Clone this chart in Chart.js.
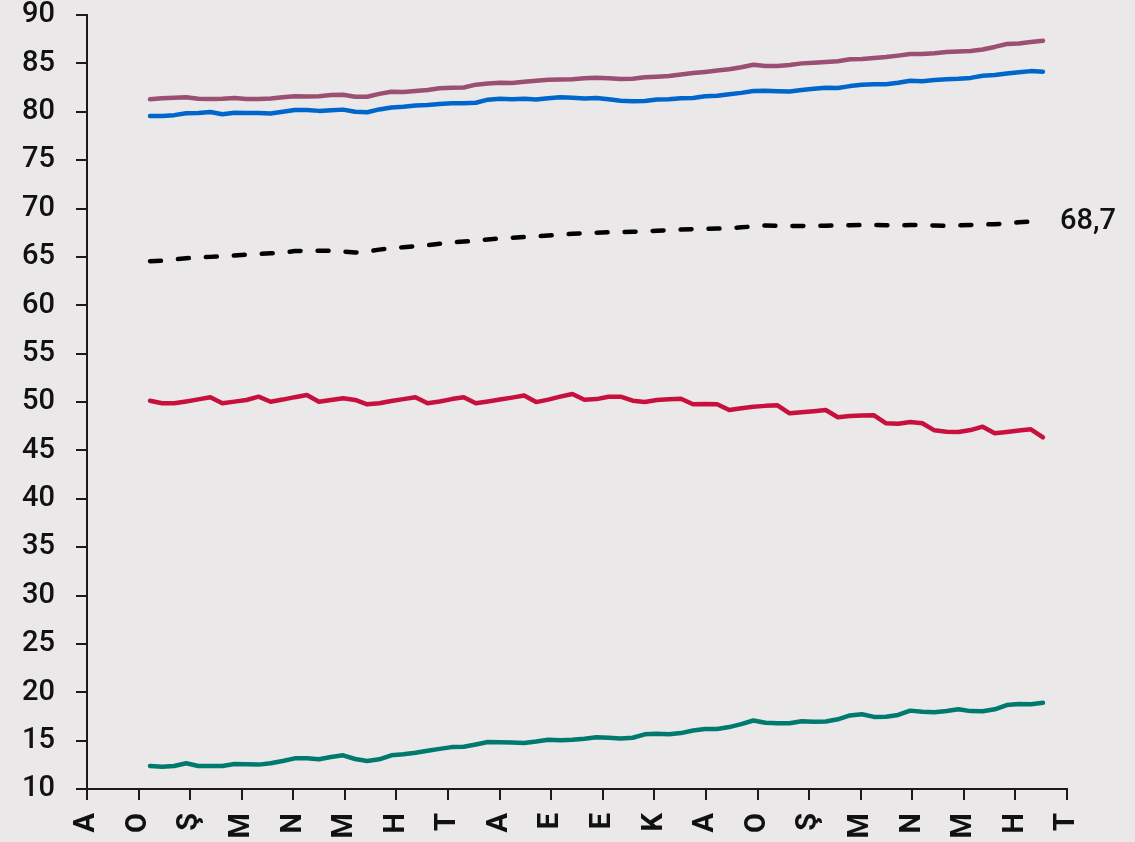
<!DOCTYPE html>
<html>
<head>
<meta charset="utf-8">
<script src="https://cdn.jsdelivr.net/npm/chart.js@4.4.1/dist/chart.umd.min.js"></script>
<style>
  html, body { margin: 0; padding: 0; background: #eae8e9; }
  canvas { display: block; }
</style>
</head>
<body>
<canvas id="chart" width="1135" height="842"></canvas>
<script>
// axis labels (month initials, one per tick)
const monthLabels = ['A', 'O', 'Ş', 'M', 'N', 'M', 'H', 'T', 'A', 'E', 'E', 'K', 'A', 'O', 'Ş', 'M', 'N', 'M', 'H', 'T'];

// series values (75 points each)
const seriesMauve = [
    81.29, 81.39, 81.44, 81.49, 81.34, 81.33, 81.35, 81.42, 81.32, 81.32,
    81.36, 81.50, 81.60, 81.58, 81.60, 81.73, 81.75, 81.55, 81.55, 81.85,
    82.07, 82.04, 82.15, 82.25, 82.42, 82.47, 82.51, 82.80, 82.93, 83.00,
    82.97, 83.10, 83.20, 83.30, 83.34, 83.37, 83.46, 83.52, 83.47, 83.39,
    83.42, 83.56, 83.62, 83.70, 83.85, 84.00, 84.12, 84.26, 84.40, 84.60,
    84.85, 84.74, 84.72, 84.83, 85.00, 85.07, 85.15, 85.22, 85.43, 85.46,
    85.55, 85.65, 85.80, 85.97, 85.97, 86.05, 86.18, 86.23, 86.29, 86.44,
    86.70, 87.00, 87.06, 87.20, 87.34
];
const seriesBlue = [
    79.56, 79.56, 79.65, 79.84, 79.88, 79.97, 79.74, 79.90, 79.87, 79.86,
    79.82, 80.00, 80.18, 80.18, 80.09, 80.15, 80.22, 80.00, 79.95, 80.24,
    80.44, 80.52, 80.64, 80.70, 80.80, 80.87, 80.87, 80.93, 81.25, 81.35,
    81.30, 81.35, 81.26, 81.40, 81.49, 81.45, 81.38, 81.43, 81.30, 81.13,
    81.08, 81.11, 81.27, 81.28, 81.39, 81.42, 81.60, 81.65, 81.80, 81.95,
    82.15, 82.16, 82.12, 82.10, 82.25, 82.38, 82.48, 82.46, 82.65, 82.78,
    82.83, 82.84, 83.00, 83.21, 83.16, 83.27, 83.35, 83.40, 83.50, 83.72,
    83.80, 83.96, 84.08, 84.20, 84.14
];
const seriesTotal = [
    64.55, 64.60, 64.75, 64.85, 64.95, 65.00, 65.05, 65.15, 65.22, 65.30,
    65.37, 65.45, 65.60, 65.64, 65.64, 65.64, 65.55, 65.45, 65.55, 65.75,
    65.90, 66.00, 66.10, 66.20, 66.35, 66.50, 66.58, 66.67, 66.80, 66.90,
    66.98, 67.05, 67.12, 67.20, 67.30, 67.38, 67.45, 67.50, 67.55, 67.57,
    67.60, 67.64, 67.70, 67.76, 67.82, 67.87, 67.90, 67.93, 67.97, 68.05,
    68.15, 68.25, 68.22, 68.18, 68.20, 68.22, 68.22, 68.25, 68.28, 68.30,
    68.29, 68.27, 68.27, 68.29, 68.28, 68.25, 68.22, 68.25, 68.30, 68.35,
    68.37, 68.45, 68.58, 68.65, 68.72
];
const seriesRed = [
    50.13, 49.87, 49.87, 50.06, 50.27, 50.49, 49.87, 50.04, 50.21, 50.55,
    50.03, 50.25, 50.50, 50.72, 50.03, 50.20, 50.38, 50.21, 49.76, 49.87,
    50.10, 50.30, 50.49, 49.87, 50.05, 50.30, 50.49, 49.87, 50.05, 50.25,
    50.45, 50.67, 49.99, 50.25, 50.55, 50.83, 50.24, 50.30, 50.55, 50.55,
    50.13, 50.00, 50.21, 50.28, 50.34, 49.76, 49.79, 49.76, 49.17, 49.35,
    49.51, 49.60, 49.66, 48.83, 48.95, 49.05, 49.17, 48.42, 48.55, 48.60,
    48.63, 47.80, 47.76, 47.93, 47.80, 47.07, 46.93, 46.90, 47.10, 47.45,
    46.77, 46.90, 47.05, 47.18, 46.35
];
const seriesTeal = [
    12.38, 12.31, 12.38, 12.66, 12.38, 12.38, 12.38, 12.58, 12.55, 12.52,
    12.66, 12.90, 13.17, 13.17, 13.07, 13.30, 13.48, 13.10, 12.90, 13.07,
    13.48, 13.60, 13.75, 13.95, 14.15, 14.33, 14.37, 14.60, 14.85, 14.84,
    14.80, 14.75, 14.90, 15.10, 15.05, 15.10, 15.20, 15.35, 15.30, 15.22,
    15.30, 15.65, 15.70, 15.65, 15.78, 16.05, 16.20, 16.20, 16.40, 16.70,
    17.08, 16.85, 16.79, 16.79, 17.00, 16.95, 16.98, 17.20, 17.60, 17.72,
    17.45, 17.47, 17.65, 18.10, 17.99, 17.93, 18.06, 18.24, 18.05, 18.03,
    18.24, 18.68, 18.78, 18.75, 18.92
];
const totalLabel = '68,7';

// x range in point-index units so the first/last tick sit where the picture has them
const X_MIN = -5.22;
const X_MAX = 75.99;

const FONT = "Roboto, 'DejaVu Sans Condensed', sans-serif";
const AXIS_COLOR = '#1a1a1a';

const toPoints = arr => arr.map((v, i) => ({ x: i, y: v }));

function lineSet(data, color, extra) {
    return Object.assign({
        data: toPoints(data),
        borderColor: color,
        borderWidth: 4.5,
        pointRadius: 0,
        tension: 0,
        borderJoinStyle: 'round',
        borderCapStyle: 'round',
        fill: false
    }, extra || {});
}

const bgPlugin = {
    id: 'bg',
    beforeDraw(chart) {
        const ctx = chart.ctx;
        ctx.save();
        ctx.fillStyle = '#eae8e9';
        ctx.fillRect(0, 0, chart.width, chart.height);
        ctx.restore();
    }
};

// value label at the end of the dashed line
const endLabelPlugin = {
    id: 'endLabel',
    afterDatasetsDraw(chart) {
        const meta = chart.getDatasetMeta(2);
        const last = meta.data[meta.data.length - 1];
        const ctx = chart.ctx;
        ctx.save();
        ctx.font = '500 29px ' + FONT;
        ctx.fillStyle = '#111';
        ctx.textAlign = 'left';
        ctx.textBaseline = 'middle';
        ctx.fillText(totalLabel, last.x + 17, last.y + 1);
        ctx.restore();
    }
};

new Chart(document.getElementById('chart'), {
    type: 'line',
    data: {
        datasets: [
            lineSet(seriesMauve, '#9b4f73'),
            lineSet(seriesBlue, '#0066cc'),
            lineSet(seriesTotal, '#000000', { borderDash: [11, 17] }),
            lineSet(seriesRed, '#c8103e'),
            lineSet(seriesTeal, '#007a6e')
        ]
    },
    options: {
        responsive: false,
        devicePixelRatio: 1,
        animation: false,
        layout: { padding: { top: 15, right: 68, bottom: 0, left: 0 } },
        plugins: {
            legend: { display: false },
            tooltip: { enabled: false }
        },
        scales: {
            x: {
                type: 'linear',
                min: X_MIN,
                max: X_MAX,
                afterBuildTicks(scale) {
                    const step = (X_MAX - X_MIN) / (monthLabels.length - 1);
                    scale.ticks = monthLabels.map((_, i) => ({ value: X_MIN + i * step }));
                },
                afterFit(scale) { scale.height = 53; },
                border: { display: true, color: AXIS_COLOR, width: 2 },
                grid: {
                    display: true,
                    drawOnChartArea: false,
                    drawTicks: true,
                    tickLength: 11,
                    color: AXIS_COLOR,
                    lineWidth: 2
                },
                ticks: {
                    autoSkip: false,
                    minRotation: 90,
                    maxRotation: 90,
                    padding: 13,
                    color: '#111',
                    font: { family: FONT, size: 29, weight: 'bold', lineHeight: 1 },
                    callback: (value, index) => monthLabels[index]
                }
            },
            y: {
                min: 10,
                max: 90,
                afterFit(scale) {
                    scale.width = 87;
                    // tick padding would otherwise be added above the axis too
                    scale.paddingTop = 0;
                    scale.paddingBottom = 0;
                },
                border: { display: true, color: AXIS_COLOR, width: 2 },
                grid: {
                    display: true,
                    drawOnChartArea: false,
                    drawTicks: true,
                    tickLength: 11,
                    color: AXIS_COLOR,
                    lineWidth: 2
                },
                ticks: {
                    stepSize: 5,
                    padding: 21,
                    color: '#111',
                    font: { family: FONT, size: 29, weight: 500, lineHeight: 1 }
                }
            }
        }
    },
    plugins: [bgPlugin, endLabelPlugin]
});
</script>
</body>
</html>
